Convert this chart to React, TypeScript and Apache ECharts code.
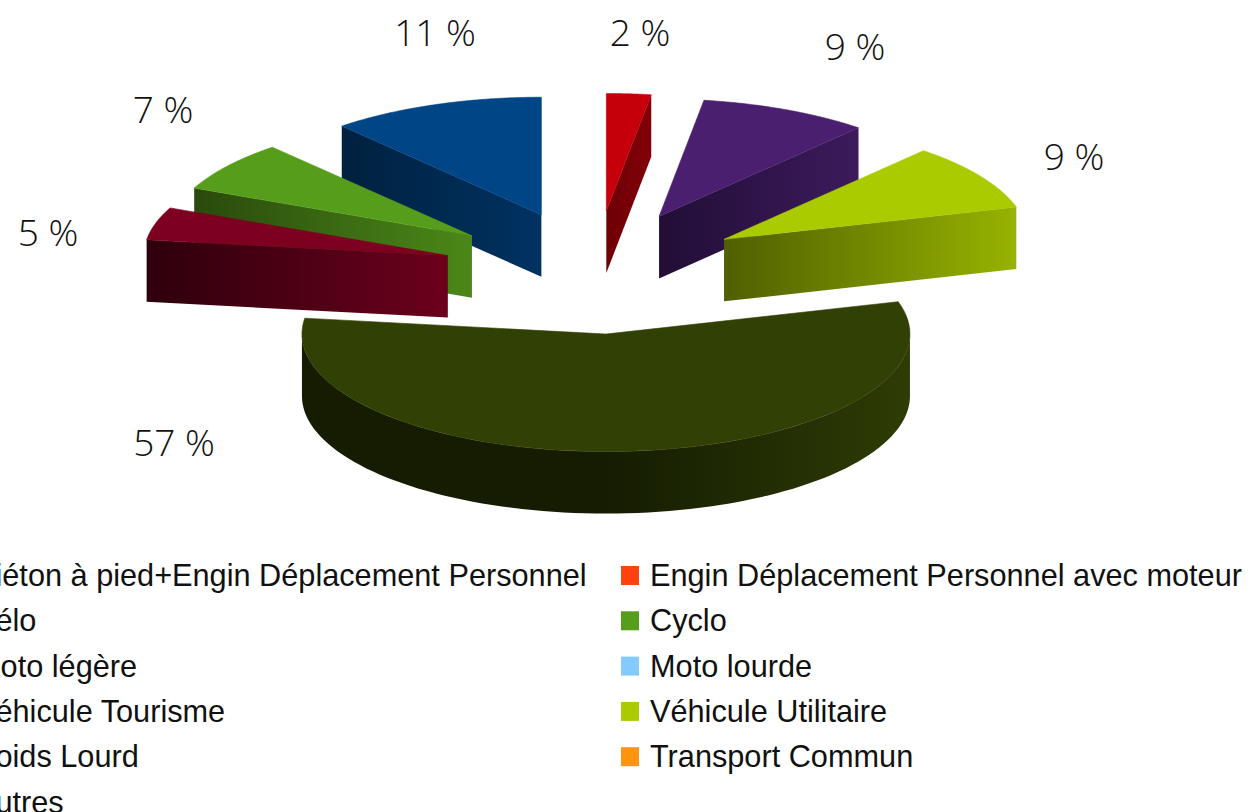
import React, { useEffect, useRef } from "react";
import * as echarts from "echarts";

const CATEGORIES = [
  "Piéton à pied+Engin Déplacement Personnel",
  "Engin Déplacement Personnel avec moteur",
  "Vélo",
  "Cyclo",
  "Moto légère",
  "Moto lourde",
  "Véhicule Tourisme",
  "Véhicule Utilitaire",
  "Poids Lourd",
  "Transport Commun",
  "Autres",
];
const VALUES = [11.4, 0, 0, 6.94, 4.5, 0, 56.6, 9.17, 9.03, 0, 2.36];
const COLORS = ["#004586", "#ff420e", "#ffd320", "#579d1c", "#7e0021", "#83caff", "#314004", "#aacb00", "#4b1f6f", "#ff950e", "#c5000b"];
const WALL_LEFT = ["#00213f", "#ff420e", "#ffd320", "#294a0c", "#2e000c", "#83caff", "#151c02", "#505f00", "#210e36", "#ff950e", "#6e0006"];
const WALL_RIGHT = ["#003262", "#ff420e", "#ffd320", "#4b8818", "#6c001c", "#83caff", "#2e3c05", "#97b300", "#3d1a5c", "#ff950e", "#820008"];
const LABEL_CENTERS = [[435, 31.5], [0, 0], [0, 0], [163, 108.5], [48, 231.5], [0, 0], [174, 441.5], [1074, 155.5], [855, 45.5], [0, 0], [640, 31.5]];

const LEFT_LEGEND = CATEGORIES.filter((_, i) => i % 2 === 0);
const RIGHT_LEGEND = CATEGORIES.filter((_, i) => i % 2 === 1);

const CX = 595, CY = 272.5, EX = 153, EY = 61.7, RX = 304, RY = 117.5, DEPTH = 62;
const rad = (d: number) => (d * Math.PI) / 180;
const TOTAL = VALUES.reduce((a, b) => a + b, 0);

function span(i: number) {
  const before = VALUES.slice(0, i).reduce((a, b) => a + b, 0);
  const end = 360 - (before / TOTAL) * 360;
  const start = end - (VALUES[i] / TOTAL) * 360;
  return { start, end, mid: (start + end) / 2 };
}

function renderSlice(i: number) {
  return (_params: any, api: any) => {
    const value = api.value(0);
    if (!value) return { type: "group", children: [] };
    const { start, end, mid } = span(i);
    const ax = CX + EX * Math.sin(rad(mid));
    const ay = CY - EY * Math.cos(rad(mid));
    const rim = (t: number): number[] => [ax + RX * Math.sin(rad(t)), ay - RY * Math.cos(rad(t))];
    const wallFill = {
      type: "linear", x: 0, y: 0, x2: 1, y2: 0,
      colorStops: [
        { offset: 0, color: WALL_LEFT[i] },
        ...(value > 50 ? [{ offset: 0.5, color: WALL_LEFT[i] }] : []),
        { offset: 1, color: WALL_RIGHT[i] },
      ],
    };
    const children: any[] = [];
    const face = (t: number) => {
      const p = rim(t);
      children.push({
        type: "polygon",
        shape: { points: [[ax, ay], p, [p[0], p[1] + DEPTH], [ax, ay + DEPTH]] },
        style: { fill: wallFill },
      });
    };
    if (Math.sin(rad(end)) > 0.01) face(end);
    if (Math.sin(rad(start)) < -0.01) face(start);
    const a0 = Math.max(start, 90), a1 = Math.min(end, 270);
    if (a1 > a0) {
      const upper: number[][] = [];
      const lower: number[][] = [];
      for (let k = 0; k <= 90; k++) {
        const p = rim(a0 + ((a1 - a0) * k) / 90);
        upper.push(p);
        lower.unshift([p[0], p[1] + DEPTH]);
      }
      children.push({ type: "polygon", shape: { points: [...upper, ...lower] }, style: { fill: wallFill } });
    }
    const top: number[][] = [[ax, ay]];
    for (let k = 0; k <= 90; k++) top.push(rim(start + ((end - start) * k) / 90));
    children.push({ type: "polygon", shape: { points: top }, style: { fill: COLORS[i], stroke: COLORS[i], lineWidth: 0.6 } });
    children.push({
      type: "text",
      style: {
        x: LABEL_CENTERS[i][0],
        y: LABEL_CENTERS[i][1],
        text: `${Math.round(value)} %`,
        align: "center",
        verticalAlign: "middle",
        fill: "#111111",
        font: '300 37px "Open Sans"',
      },
    });
    return { type: "group", children };
  };
}

const legendBase = {
  orient: "vertical",
  top: 560,
  height: 300,
  itemWidth: 18,
  itemHeight: 19,
  itemGap: 14.3,
  icon: "rect",
  selectedMode: false,
  padding: 0,
  textStyle: {
    fontFamily: '"Liberation Sans"',
    fontSize: 30.7,
    lineHeight: 30,
    color: "#111111",
    padding: [0, 0, 0, 6],
  },
};

export default function App() {
  const ref = useRef<HTMLDivElement>(null);
  useEffect(() => {
    document.body.style.margin = "0";
    const chart = echarts.init(ref.current!, undefined, { renderer: "svg" });
    chart.setOption({
      animation: false,
      backgroundColor: "#ffffff",
      tooltip: { show: false },
      legend: [
        { ...legendBase, left: -54, data: LEFT_LEGEND.map((name) => ({ name, itemStyle: { color: COLORS[CATEGORIES.indexOf(name)] } })) },
        { ...legendBase, left: 621, data: RIGHT_LEGEND.map((name) => ({ name, itemStyle: { color: COLORS[CATEGORIES.indexOf(name)] } })) },
      ],
      series: CATEGORIES.map((name, i) => ({
        type: "custom",
        name,
        coordinateSystem: "none",
        silent: true,
        z: 10 - 5 * Math.cos(rad(span(i).mid)),
        itemStyle: { color: COLORS[i] },
        renderItem: renderSlice(i),
        data: [[VALUES[i]]],
      })),
    });
    return () => chart.dispose();
  }, []);
  return <div ref={ref} style={{ width: 1250, height: 812 }} />;
}
